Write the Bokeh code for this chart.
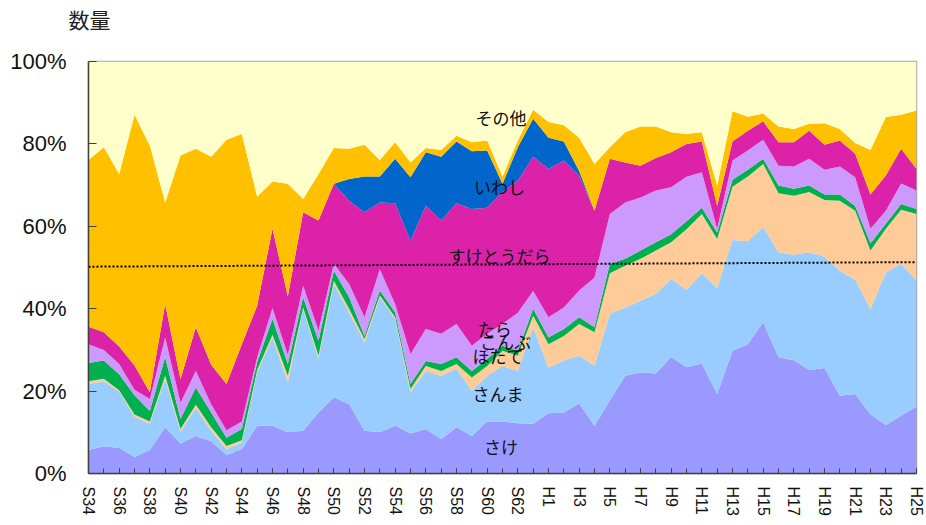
from bokeh.plotting import figure
from bokeh.models import ColumnDataSource, Range1d, FixedTicker, Title
from bokeh.core.properties import value
from bokeh.embed import file_html
from bokeh.resources import INLINE

years = list(range(1959, 2014))
tick_years = list(range(1959, 2014, 2))
tick_labels = ["S34", "S36", "S38", "S40", "S42", "S44", "S46", "S48", "S50", "S52",
               "S54", "S56", "S58", "S60", "S62", "H1", "H3", "H5", "H7", "H9",
               "H11", "H13", "H15", "H17", "H19", "H21", "H23", "H25"]

# shares (%) per species, bottom to top
sake = [5.7, 6.6, 6.2, 4.0, 5.7, 11.2, 7.3, 9.1, 7.8, 4.5,
        5.9, 11.6, 11.6, 10.0, 10.4, 14.8, 18.5, 16.8, 10.4, 10.0,
        11.6, 9.7, 10.8, 8.3, 11.2, 9.1, 12.6, 12.6, 12.2, 12.1,
        14.6, 14.8, 17.0, 11.6, 17.7, 23.7, 24.5, 24.3, 28.3, 25.8,
        26.7, 19.3, 29.8, 31.4, 36.7, 28.2, 27.5, 25.1, 25.6, 18.9,
        19.3, 14.4, 11.8, 14.0, 16.2]
sanma = [16.0, 15.7, 13.7, 9.8, 6.4, 11.7, 2.9, 6.8, 2.6, 1.4,
         1.6, 12.9, 21.4, 12.1, 29.5, 13.0, 27.5, 22.3, 21.4, 32.8,
         25.9, 10.0, 14.1, 15.4, 14.2, 11.0, 11.1, 13.5, 12.7, 23.4,
         11.1, 12.6, 11.6, 14.6, 21.0, 16.6, 17.4, 19.3, 18.9, 18.8,
         21.9, 25.7, 26.9, 25.0, 23.2, 25.5, 25.6, 28.6, 27.0, 30.3,
         27.7, 25.5, 37.0, 36.9, 30.6]
hotate = [0.7, 0.7, 0.3, 0.5, 0.5, 0.8, 0.6, 0.8, 0.8, 0.8,
          0.6, 0.6, 0.7, 1.6, 0.4, 0.8, 0.8, 0.8, 0.8, 0.4,
          0.4, 0.8, 1.2, 1.2, 1.2, 3.2, 2.4, 3.7, 3.7, 2.8,
          5.7, 6.0, 7.7, 8.1, 9.9, 10.1, 10.2, 10.5, 8.9, 14.7,
          14.4, 11.9, 12.9, 15.7, 15.2, 14.3, 14.3, 14.6, 13.8, 17.0,
          16.8, 14.2, 10.6, 13.1, 16.2]
konbu = [4.4, 4.4, 3.9, 4.7, 2.6, 4.6, 2.4, 4.2, 3.6, 2.0,
         2.7, 1.9, 3.8, 2.9, 2.5, 3.6, 2.4, 2.9, 0.8, 1.2,
         1.2, 1.2, 1.2, 1.7, 1.6, 1.6, 1.7, 1.2, 1.2, 1.7,
         1.6, 1.7, 1.6, 1.2, 2.3, 1.7, 2.0, 2.0, 2.0, 1.9,
         1.5, 1.6, 1.7, 1.6, 1.3, 1.9, 1.7, 1.6, 1.3, 1.5,
         1.1, 1.8, 1.2, 1.4, 1.2]
tara = [4.6, 2.6, 2.5, 1.3, 2.9, 4.7, 4.0, 4.0, 2.0, 1.8,
        1.8, 1.2, 2.7, 2.2, 2.8, 2.5, 1.7, 3.2, 4.5, 5.2,
        2.0, 7.3, 7.8, 7.3, 8.1, 6.1, 6.1, 5.3, 9.2, 4.3,
        4.9, 5.2, 6.5, 12.1, 12.1, 13.7, 12.9, 12.6, 11.4, 10.8,
        8.6, 0.9, 4.7, 4.7, 4.6, 4.8, 5.4, 6.5, 6.0, 6.8,
        7.0, 3.5, 3.2, 5.0, 4.5]
suketoudara = [4.2, 4.3, 4.2, 5.9, 1.6, 8.1, 5.7, 10.6, 9.6, 11.2,
               18.8, 12.5, 19.2, 14.2, 17.8, 26.7, 19.4, 20.2, 25.5, 16.2,
               24.5, 27.5, 29.9, 27.5, 29.3, 33.2, 30.6, 32.0, 32.1, 32.6,
               36.0, 35.7, 27.9, 16.2, 13.4, 9.7, 7.7, 7.9, 8.5, 8.0,
               7.5, 5.6, 4.6, 4.8, 4.5, 5.7, 5.9, 6.8, 6.1, 6.3,
               5.7, 8.3, 8.5, 8.4, 5.2]
iwashi = [0, 0, 0, 0, 0, 0, 0, 0, 0, 0,
          0, 0, 0, 0, 0, 0, 0, 5.3, 8.7, 6.3,
          10.8, 15.4, 13.0, 15.5, 15.0, 14.0, 13.9, 2.0, 8.1, 9.2,
          7.6, 4.6, 1.1, 0, 0, 0, 0, 0, 0, 0,
          0, 0, 0, 0, 0, 0, 0, 0, 0, 0,
          0, 0, 0, 0, 0]
unlabeled = [40.5, 44.9, 41.9, 60.9, 59.9, 24.7, 54.3, 43.3, 50.5, 59.3,
             51.0, 26.5, 11.5, 27.3, 3.2, 11.3, 8.7, 7.3, 7.7, 4.0,
             4.0, 3.6, 1.0, 1.6, 1.4, 2.2, 2.4, 1.8, 1.6, 2.2,
             3.8, 3.9, 8.1, 11.3, 2.8, 7.3, 9.5, 7.6, 4.8, 2.4,
             2.2, 4.9, 7.3, 3.4, 1.9, 3.8, 3.2, 1.7, 5.2, 2.8,
             2.6, 10.8, 14.2, 8.3, 14.2]
sonota = [23.9, 20.8, 27.3, 12.9, 20.4, 34.2, 22.8, 21.2, 23.1, 19.0,
          17.6, 32.8, 29.1, 29.7, 33.4, 27.3, 21.0, 21.2, 20.2, 23.9,
          19.6, 24.5, 21.0, 21.5, 18.0, 19.6, 19.2, 27.9, 19.2, 11.7,
          14.7, 15.5, 18.5, 24.9, 20.8, 17.2, 15.8, 15.8, 17.2, 17.6,
          17.2, 30.1, 12.1, 13.4, 12.6, 15.8, 16.4, 15.1, 15.0, 16.4,
          19.8, 21.5, 13.5, 12.9, 11.9]

# dotted reference line
ref_x = [1959, 2013]
ref_y = [50.2, 51.3]

# in-chart series labels
label_text = ["その他", "いわし", "すけとうだら", "たら", "こんぶ", "ほたて", "さんま", "さけ"]
label_x = [1985.9, 1985.8, 1985.8, 1985.5, 1986.2, 1985.7, 1985.7, 1985.9]
label_y = [86.3, 69.6, 52.9, 35.3, 32.0, 28.7, 19.4, 6.5]

names = ["sake", "sanma", "hotate", "konbu", "tara", "suketoudara", "iwashi", "unlabeled", "sonota"]
colors = ["#9999FF", "#99CCFF", "#FFCC99", "#00B050", "#CC99FF", "#DD22AA", "#0066CC", "#FFC000", "#FFFFCC"]

src = ColumnDataSource(dict(year=years, sake=sake, sanma=sanma, hotate=hotate, konbu=konbu,
                            tara=tara, suketoudara=suketoudara, iwashi=iwashi,
                            unlabeled=unlabeled, sonota=sonota))

p = figure(width=926, height=525, output_backend="svg", toolbar_location=None,
           x_range=Range1d(1959, 2013), y_range=Range1d(0, 100),
           min_border_left=88, min_border_right=10, min_border_top=61, min_border_bottom=52)
p.background_fill_color = "#FFFFCC"
p.border_fill_color = "white"
p.outline_line_color = "#A6A6A6"
p.outline_line_width = 1.5
p.xgrid.visible = False
p.ygrid.visible = False

# real title (outer), spacer title added later sits next to the frame
p.title.text = "数量"
p.title.text_font = "Noto Sans CJK JP"
p.title.text_font_size = "21px"
p.title.text_font_style = "normal"
p.title.text_color = "#222222"
p.title.align = "left"
p.title.vertical_align = "top"
p.title.offset = -20
p.title.standoff = 0

p.add_layout(Title(text=" ", text_font_size="1px", standoff=23, vertical_align="top"), "above")

p.varea_stack(stackers=names, x="year", color=colors, source=src)
p.line(ref_x, ref_y, line_color="black", line_width=2, line_dash="2 2")

p.text(x=label_x, y=label_y, text=label_text, text_font=value("Noto Sans CJK JP"),
       text_font_size="17px", text_align="center", text_baseline="middle", text_color="#111111")

# x axis
xa = p.xaxis[0]
xa.ticker = FixedTicker(ticks=tick_years, minor_ticks=years)
xa.major_label_overrides = {y: t for y, t in zip(tick_years, tick_labels)}
xa.major_label_orientation = "vertical"
xa.major_label_text_font = "Liberation Sans"
xa.major_label_text_font_size = "16px"
xa.major_label_text_color = "#111111"
xa.major_label_standoff = 13
xa.major_tick_in = 5
xa.major_tick_out = 0
xa.minor_tick_in = 5
xa.minor_tick_out = 0
xa.axis_line_color = "#404040"
xa.axis_line_width = 1.5
xa.major_tick_line_color = "#404040"
xa.minor_tick_line_color = "#404040"

# y axis
ya = p.yaxis[0]
ya.ticker = FixedTicker(ticks=[0, 20, 40, 60, 80, 100], minor_ticks=[])
ya.major_label_overrides = {0: "0%", 20: "20%", 40: "40%", 60: "60%", 80: "80%", 100: "100%"}
ya.major_label_text_font = "Liberation Sans"
ya.major_label_text_font_size = "22px"
ya.major_label_text_color = "#111111"
ya.major_label_standoff = 22
ya.major_tick_in = 8
ya.major_tick_out = 0
ya.axis_line_color = "#404040"
ya.axis_line_width = 1.5
ya.major_tick_line_color = "#404040"

open("out.html", "w").write(file_html(p, INLINE))
